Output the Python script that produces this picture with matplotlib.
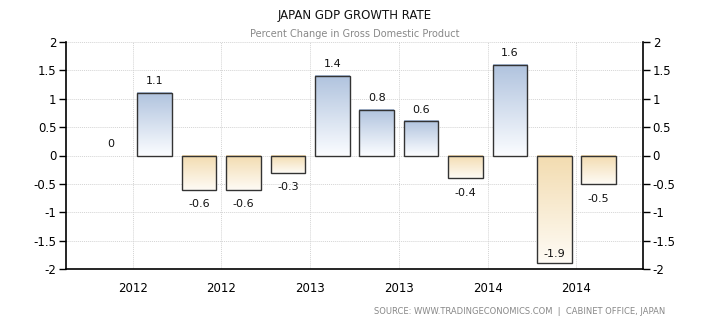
import matplotlib
matplotlib.use("Agg")
import matplotlib.pyplot as plt
import numpy as np
from matplotlib.colors import LinearSegmentedColormap

values = [0, 1.1, -0.6, -0.6, -0.3, 1.4, 0.8, 0.6, -0.4, 1.6, -1.9, -0.5]
tick_labels = ["2012", "2012", "2013", "2013", "2014", "2014"]
y_ticks = [2, 1.5, 1, 0.5, 0, -0.5, -1, -1.5, -2]
title = "JAPAN GDP GROWTH RATE"
subtitle = "Percent Change in Gross Domestic Product"
source = "SOURCE: WWW.TRADINGECONOMICS.COM  |  CABINET OFFICE, JAPAN"

plt.rcParams['font.family'] = ['DejaVu Sans']

fig = plt.figure(figsize=(7.1, 3.25), dpi=100)
ax = fig.add_axes([66/710, 1-269/325, (643-66)/710, (269-42)/325])

x = np.arange(len(values))
bars = ax.bar(x, values, width=0.78, facecolor='none', edgecolor='#333333', linewidth=1.0, zorder=3)

cmap_pos = LinearSegmentedColormap.from_list('pos', ['#fafcff', '#b0c3de'])
cmap_neg = LinearSegmentedColormap.from_list('neg', ['#fefbf5', '#f3dcb0'])
grad = np.linspace(0, 1, 100).reshape(-1, 1)
for b, v in zip(bars, values):
    if v == 0:
        b.set_linewidth(0)
        continue
    x0 = b.get_x(); w = b.get_width()
    y0 = min(0, v); y1 = max(0, v)
    cm = cmap_pos if v > 0 else cmap_neg
    ax.imshow(grad, cmap=cm, aspect='auto', extent=[x0, x0 + w, y0, y1],
              origin='lower', zorder=2, interpolation='bilinear')

for xi, v in zip(x, values):
    lab = f"{v:g}"
    if v >= 0:
        ax.annotate(lab, (xi, v), xytext=(0, 5), textcoords='offset points',
                    ha='center', va='bottom', fontsize=8, color='#111111')
    elif v < -1.7:
        ax.annotate(lab, (xi, v), xytext=(0, 3), textcoords='offset points',
                    ha='center', va='bottom', fontsize=8, color='#111111')
    else:
        ax.annotate(lab, (xi, v), xytext=(0, -7), textcoords='offset points',
                    ha='center', va='top', fontsize=8, color='#111111')

ax.set_xlim(-1, 12)
ax.set_ylim(-2, 2)
ax.set_yticks(y_ticks)
ax.set_yticklabels([f"{t:g}" for t in y_ticks])
ax.set_xticks(np.arange(0.5, 12, 2))
ax.set_xticklabels(tick_labels)

ax.tick_params(axis='y', which='both', direction='out', length=5, width=1,
               labelsize=8.5, left=True, right=True, labelleft=True, labelright=True, pad=2)
ax.tick_params(axis='x', length=0, labelsize=8.5, pad=9)

ax.grid(True, color='#d4d4d4', linestyle=(0, (1, 1)), linewidth=0.7, zorder=0)
ax.set_axisbelow(True)
ax.spines['top'].set_visible(False)
for s in ['left', 'right', 'bottom']:
    ax.spines[s].set_color('black')
    ax.spines[s].set_linewidth(1.2)

fig.text(355/710, 1-16/325, title, ha='center', va='center', fontsize=8.5, color='#111111')
fig.text(355/710, 1-34/325, subtitle, ha='center', va='center', fontsize=7, color='#888888')
fig.text(665/710, 1-311/325, source, ha='right', va='center', fontsize=6, color='#888888')

fig.savefig('out.png', dpi=100)
